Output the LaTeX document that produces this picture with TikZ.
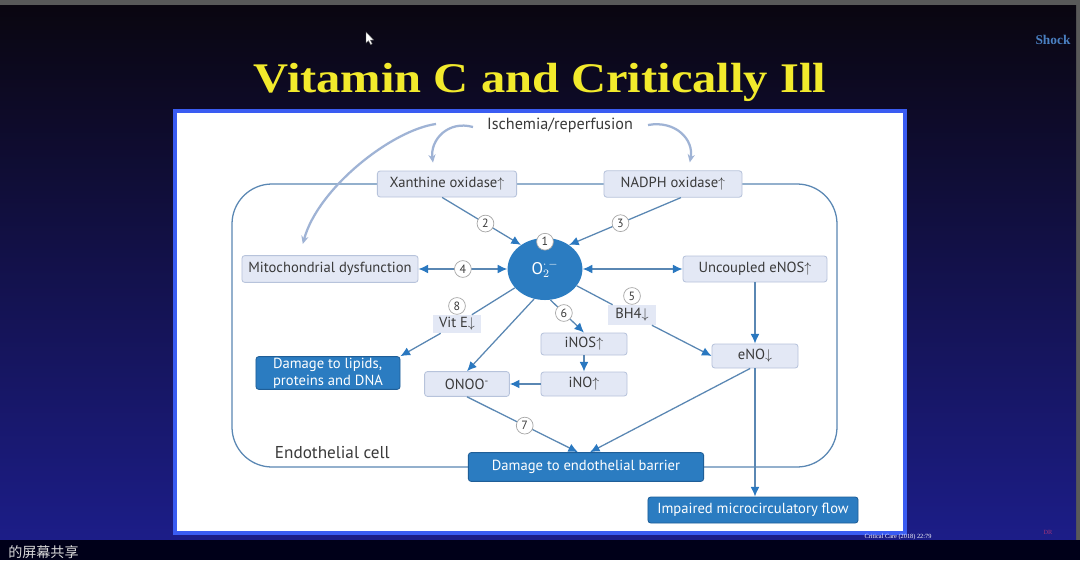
\documentclass[tikz,border=0pt]{standalone}
\usepackage{fontspec}
\setmainfont{Liberation Serif}
\setsansfont{PT Sans}
\newfontfamily\titlefont[FakeStretch=1.15]{Liberation Serif}
\newfontfamily\cjk{Noto Sans CJK SC}
\usetikzlibrary{arrows.meta, positioning, shapes.geometric}

\definecolor{slidetop}{HTML}{0A0610}
\definecolor{slidemid}{HTML}{12134F}
\definecolor{slidebot}{HTML}{1C1D88}
\definecolor{panelc}{HTML}{3A5CF2}
\definecolor{boxfill}{HTML}{E3E8F5}
\definecolor{boxline}{HTML}{B7C3DB}
\definecolor{darkfill}{HTML}{2B7CC1}
\definecolor{darkline}{HTML}{1F5E97}
\definecolor{linec}{HTML}{5A87B3}
\definecolor{tipc}{HTML}{2A78C0}
\definecolor{palec}{HTML}{9FB3D5}
\definecolor{txtc}{HTML}{3A3A3A}
\definecolor{titlec}{HTML}{F2EA2C}
\definecolor{shockc}{HTML}{4A80C2}
\definecolor{drc}{HTML}{A0337A}

\begin{document}
\begin{tikzpicture}[x=0.025cm, y=-0.025cm,
      >={Latex[length=2.4mm, width=2.2mm, color=tipc]},
      lbl/.style={font=\sffamily\fontsize{10.4}{12}\selectfont, text=txtc},
      box/.style={lbl, draw=boxline, fill=boxfill, rounded corners=2pt, line width=0.6pt, inner sep=0pt},
      dark/.style={box, draw=darkline, fill=darkfill, text=white},
      tag/.style={lbl, fill=boxfill, inner sep=0pt},
      num/.style={circle, draw=black!35, fill=white, line width=0.5pt, minimum size=0.42cm, inner sep=0pt,
        font=\sffamily\fontsize{8.5}{9}\selectfont, text=txtc},
      link/.style={draw=linec, line width=0.9pt},
      ischarrow/.style={draw=palec, line width=1.6pt, -{Stealth[length=2mm, width=1.8mm]}}]
    \useasboundingbox (0,0) rectangle (1080,560);
    % slide
    \fill[black!65] (0,0) rectangle (1080,560);
    \shade[top color=slidetop, middle color=slidemid, bottom color=slidebot] (0,5) rectangle (1076,540);
    \fill[black!90!blue] (0,540) rectangle (1080,560);
    \node[font=\titlefont\bfseries\fontsize{30}{34}\selectfont, text=titlec] (title) at (540,82) {Vitamin C and Critically Ill};
    \node[font=\bfseries\fontsize{9.5}{11}\selectfont, text=shockc] (shock) at (1053,40) {Shock};
    \fill[white, draw=black!60, line width=0.3pt] (366,32) -- (366,43) -- (368.5,40.6) -- (370.6,44.6) -- (372.2,43.8) -- (370.2,40) -- (373.6,40) -- cycle; % cursor
    \fill[panelc] (173,109) rectangle (907,535);
    \fill[white] (177,113) rectangle (903,531);
    \node[font=\fontsize{4.5}{5}\selectfont, text=white] (ref) at (898,537) {Critical Care (2018) 22:79};
    \node[font=\fontsize{4.5}{5}\selectfont, text=drc] (dr) at (1048,532) {DR};
    \node[font=\cjk\fontsize{10}{11}\selectfont, text=white!85!black, anchor=west, inner sep=0pt] (share) at (8,552) {的屏幕共享};

    % endothelial cell
    \draw[link, rounded corners=1cm] (232,184) rectangle (837,467);
    \node[lbl, font=\sffamily\fontsize{12.2}{14}\selectfont, anchor=west] (cell) at (270,453) {Endothelial cell};

    \node[lbl, font=\sffamily\fontsize{11.5}{13}\selectfont] (isch) at (560,125) {Ischemia/reperfusion};
    \node[box, minimum width=3.48cm, minimum height=0.65cm] (xo) at (447,184) {Xanthine oxidase$\uparrow$};
    \node[box, minimum width=3.45cm, minimum height=0.66cm] (nox) at (673,184) {NADPH oxidase$\uparrow$};
    \node[ellipse, fill=darkfill, minimum width=1.87cm, minimum height=1.55cm, text=white,
      font=\sffamily\fontsize{12}{14}\selectfont] (sox) at (545,269) {O$_2^{\cdot\,-}$};
    \node[box, minimum width=4.4cm, minimum height=0.67cm] (mito) at (330,269) {Mitochondrial dysfunction};
    \node[box, minimum width=3.6cm, minimum height=0.65cm] (enos) at (755,269) {Uncoupled eNOS$\uparrow$};
    \node[tag, minimum width=1.22cm, minimum height=0.45cm] (vite) at (457,324) {Vit E$\downarrow$};
    \node[tag, minimum width=1.2cm, minimum height=0.5cm] (bh4) at (632,315) {BH4$\downarrow$};
    \node[dark, minimum width=3.6cm, minimum height=0.82cm, align=left] (lipid) at (328,373) {Damage to lipids,\\proteins and DNA};
    \node[box, minimum width=2.15cm, minimum height=0.55cm] (inos) at (584,344) {iNOS$\uparrow$};
    \node[box, minimum width=2.15cm, minimum height=0.6cm] (ino) at (584,384) {iNO$\uparrow$};
    \node[box, minimum width=2.12cm, minimum height=0.62cm] (onoo) at (467,384) {ONOO\textsuperscript{-}};
    \node[box, minimum width=2.15cm, minimum height=0.6cm] (eno) at (755,356) {eNO$\downarrow$};
    \node[dark, minimum width=5.88cm, minimum height=0.72cm] (barrier) at (586,467) {Damage to endothelial barrier};
    \node[dark, minimum width=5.25cm, minimum height=0.65cm] (flow) at (753,510) {Impaired microcirculatory flow};

    % ischemia arrows
    \coordinate (isl) at (473,127);
    \coordinate (isll) at (436,124);
    \coordinate (isr) at (648,125);
    \draw[ischarrow] (isl) .. controls (448,120) and (430,140) .. ([shift={(-0.35cm,0.2cm)}]xo.north);
    \draw[ischarrow] (isll) .. controls (392,130) and (318,188) .. ([shift={(-0.68cm,0.28cm)}]mito.north);
    \draw[ischarrow] (isr) .. controls (676,120) and (694,140) .. ([shift={(0.42cm,0.2cm)}]nox.north);

    % superoxide
    \draw[link, <->] (mito) -- node[num] {4} (sox);
    \draw[link, <->] (sox) -- (enos);
    \draw[link, ->] (xo.250) -- node[num, pos=0.55] {2} (sox.135);
    \draw[link, ->] (nox.300) -- node[num, pos=0.54] {3} (sox.45);
    \node[num] (n1) at ([yshift=-0.1cm]sox.north) {1};
    \draw[link] (sox) -- (vite);
    \node[num] (n8) [above=0pt of vite] {8};
    \draw[link, ->] (vite) -- (lipid.north east);
    \draw[link, ->] (sox.250) -- (onoo.north);
    \draw[link, ->] (sox.280) -- node[num, pos=0.4] {6} (inos.north);
    \draw[link] (sox) -- (bh4);
    \node[num] (n5) [above=0pt of bh4] {5};
    \draw[link, ->] (bh4) -- (eno.west);
    \draw[link, ->] (inos) -- (ino);
    \draw[link, ->] (ino) -- (onoo);
    \draw[link, ->] (onoo.south) -- node[num, pos=0.52] {7} ([xshift=-0.2cm]barrier.north);
    \draw[link, ->] ([xshift=-0.12cm]eno.south) -- ([xshift=0.1cm]barrier.north);
    \draw[link, ->] (enos) -- (eno);
    \draw[link, ->] (eno) -- (eno |- flow.north);
\end{tikzpicture}
\end{document}
